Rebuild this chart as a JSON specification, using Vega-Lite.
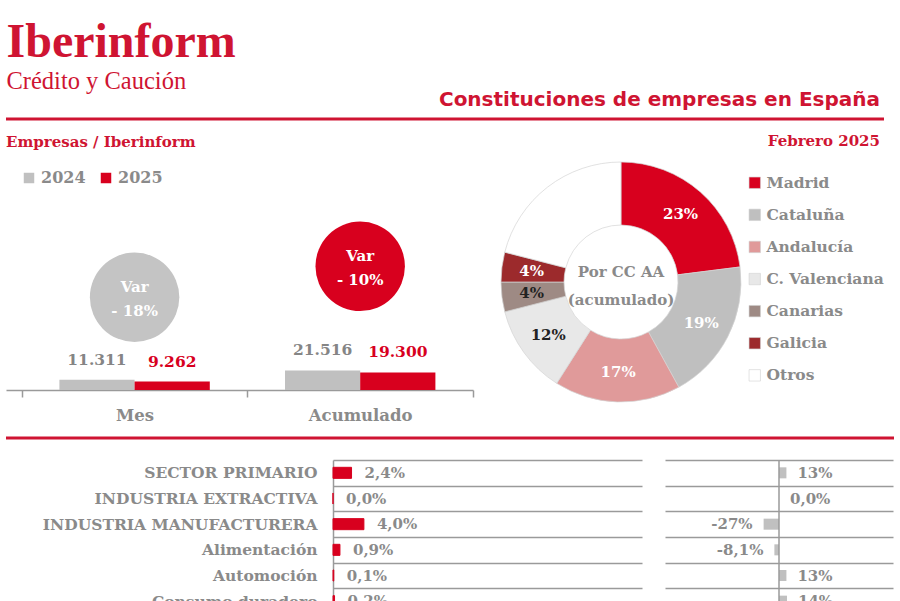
{
  "$schema": "https://vega.github.io/schema/vega-lite/v6.json",
  "background": "white",
  "padding": {"left": 4, "top": 19, "right": 0, "bottom": 0},
  "title": {
    "text": "Iberinform",
    "subtitle": "Crédito y Caución",
    "anchor": "start",
    "frame": "bounds",
    "font": "Liberation Serif",
    "fontSize": 48,
    "fontWeight": "bold",
    "color": "#cf1432",
    "subtitleFont": "Liberation Serif",
    "subtitleFontSize": 24.5,
    "subtitleFontWeight": "normal",
    "subtitleColor": "#cf1432",
    "subtitlePadding": 3,
    "offset": -4,
    "dx": 2
  },
  "config": {"view": {"stroke": null}},
  "datasets": {
    "sectores": [
      {"sector": "SECTOR PRIMARIO", "peso": 2.4, "peso_txt": "2,4%", "variacion": 13, "variacion_txt": "13%"},
      {"sector": "INDUSTRIA EXTRACTIVA", "peso": 0.0, "peso_txt": "0,0%", "variacion": 0.0, "variacion_txt": "0,0%"},
      {"sector": "INDUSTRIA MANUFACTURERA", "peso": 4.0, "peso_txt": "4,0%", "variacion": -27, "variacion_txt": "-27%"},
      {"sector": "Alimentación", "peso": 0.9, "peso_txt": "0,9%", "variacion": -8.1, "variacion_txt": "-8,1%"},
      {"sector": "Automoción", "peso": 0.1, "peso_txt": "0,1%", "variacion": 13, "variacion_txt": "13%"},
      {"sector": "Consumo duradero", "peso": 0.2, "peso_txt": "0,2%", "variacion": 14, "variacion_txt": "14%"}
    ]
  },
  "resolve": {"scale": {"color": "independent"}, "legend": {"color": "independent"}},
  "columns": 1,
  "spacing": 12,
  "concat": [
    {
      "width": 878,
      "height": 1,
      "title": {"text": "Constituciones de empresas en España", "anchor": "end", "frame": "group", "font": "DejaVu Sans", "fontSize": 20, "fontWeight": "bold", "color": "#cf1432", "offset": 8, "dx": -4},
      "data": {"values": [{}]},
      "mark": {"type": "rule", "color": "#cf1432", "strokeWidth": 3},
      "encoding": {"y": {"datum": 0, "type": "quantitative", "scale": {"domain": [0, 1]}, "axis": null}}
    },
    {
      "spacing": 25,
      "resolve": {"scale": {"color": "independent"}, "legend": {"color": "independent"}},
      "hconcat": [
        {
          "width": 467,
          "height": 228,
          "title": {"text": "Empresas / Iberinform", "anchor": "start", "frame": "bounds", "font": "DejaVu Serif", "fontSize": 15, "fontWeight": "bold", "color": "#cf1432", "offset": 12},
          "resolve": {"scale": {"y": "independent"}},
          "encoding": {
            "x": {
              "field": "periodo", "type": "nominal", "sort": ["Mes", "Acumulado"],
              "scale": {"paddingInner": 0, "paddingOuter": 0.035, "align": 1},
              "axis": {"title": null, "domainColor": "#9a9a9a", "domainWidth": 1.5, "ticks": true, "tickBand": "extent", "tickColor": "#9a9a9a", "tickWidth": 1.5, "tickSize": 7, "labelPadding": 10, "labelFont": "DejaVu Serif", "labelFontWeight": "bold", "labelFontSize": 16.5, "labelColor": "#8a8a8a", "labelAngle": 0}
            }
          },
          "layer": [
            {
              "data": {"values": [
                {"periodo": "Mes", "anio": "2024", "empresas": 11311, "etiqueta": "11.311"},
                {"periodo": "Mes", "anio": "2025", "empresas": 9262, "etiqueta": "9.262"},
                {"periodo": "Acumulado", "anio": "2024", "empresas": 21516, "etiqueta": "21.516"},
                {"periodo": "Acumulado", "anio": "2025", "empresas": 19300, "etiqueta": "19.300"}
              ]},
              "encoding": {
                "xOffset": {"field": "anio", "type": "nominal", "scale": {"paddingInner": 0, "paddingOuter": 0.5}},
                "y": {"field": "empresas", "type": "quantitative", "scale": {"domain": [0, 250000]}, "axis": null}
              },
              "layer": [
                {
                  "mark": {"type": "bar"},
                  "encoding": {
                    "color": {"field": "anio", "type": "nominal", "scale": {"domain": ["2024", "2025"], "range": ["#c0c0c0", "#d8001e"]},
                      "legend": {"orient": "none", "legendX": 15, "legendY": 8, "direction": "horizontal", "title": null, "symbolType": "square", "symbolSize": 110, "symbolStrokeWidth": 0, "labelFont": "DejaVu Serif", "labelFontWeight": "bold", "labelFontSize": 16, "labelColor": "#8a8a8a", "columnPadding": 12, "labelOffset": 4}}
                  }
                },
                {
                  "mark": {"type": "text", "baseline": "bottom", "dy": -12, "font": "DejaVu Serif", "fontWeight": "bold", "fontSize": 15.5},
                  "encoding": {
                    "text": {"field": "etiqueta"},
                    "color": {"condition": {"test": "datum.anio == '2025'", "value": "#d8001e"}, "value": "#858585"}
                  }
                }
              ]
            },
            {
              "data": {"values": [
                {"periodo": "Mes", "variacion": -18, "texto": ["Var", "- 18%"]},
                {"periodo": "Acumulado", "variacion": -10, "texto": ["Var", "- 10%"]}
              ]},
              "encoding": {
                "y": {"field": "variacion", "type": "quantitative", "scale": {"domain": [-42, 17]}, "axis": null}
              },
              "layer": [
                {
                  "mark": {"type": "point", "filled": true, "size": 8000, "opacity": 1, "shape": "circle"},
                  "encoding": {"color": {"condition": {"test": "datum.periodo == 'Mes'", "value": "#c4c4c4"}, "value": "#d8001e"}}
                },
                {
                  "mark": {"type": "text", "font": "DejaVu Serif", "fontWeight": "bold", "fontSize": 15, "color": "white", "lineHeight": 24, "baseline": "middle", "dy": -10},
                  "encoding": {"text": {"field": "texto"}}
                }
              ]
            }
          ]
        },
        {
          "width": 240,
          "height": 240,
          "title": {"text": "Febrero 2025", "anchor": "end", "frame": "bounds", "font": "DejaVu Serif", "fontSize": 15, "fontWeight": "bold", "color": "#cf1432", "offset": 12, "dx": -4},
          "data": {"values": [
            {"region": "Madrid", "peso": 23, "etiqueta": "23%", "orden": 1},
            {"region": "Cataluña", "peso": 19, "etiqueta": "19%", "orden": 2},
            {"region": "Andalucía", "peso": 17, "etiqueta": "17%", "orden": 3},
            {"region": "C. Valenciana", "peso": 12, "etiqueta": "12%", "orden": 4},
            {"region": "Canarias", "peso": 4, "etiqueta": "4%", "orden": 5},
            {"region": "Galicia", "peso": 4, "etiqueta": "4%", "orden": 6},
            {"region": "Otros", "peso": 21, "etiqueta": "", "orden": 7}
          ]},
          "layer": [
            {
              "mark": {"type": "arc", "innerRadius": 57, "outerRadius": 120, "stroke": "#d4d4d4", "strokeWidth": 0.7},
              "encoding": {
                "theta": {"field": "peso", "type": "quantitative", "stack": true},
                "order": {"field": "orden", "type": "quantitative"},
                "color": {"field": "region", "type": "nominal",
                  "scale": {"domain": ["Madrid", "Cataluña", "Andalucía", "C. Valenciana", "Canarias", "Galicia", "Otros"], "range": ["#d8001e", "#bfbfbf", "#e09a9a", "#e8e8e8", "#9e8a84", "#9c2a2c", "#ffffff"]},
                  "legend": {"orient": "none", "legendX": 246, "legendY": 13, "direction": "vertical", "title": null, "symbolType": "square", "symbolSize": 130, "symbolStrokeColor": "#d0d0d0", "symbolStrokeWidth": 0.6, "labelFont": "DejaVu Serif", "labelFontWeight": "bold", "labelFontSize": 15.5, "labelColor": "#8a8a8a", "rowPadding": 15.1, "labelOffset": 4}}
              }
            },
            {
              "mark": {"type": "text", "radius": 90, "font": "DejaVu Serif", "fontWeight": "bold", "fontSize": 15},
              "encoding": {
                "theta": {"field": "peso", "type": "quantitative", "stack": true},
                "order": {"field": "orden", "type": "quantitative"},
                "text": {"field": "etiqueta"},
                "color": {"condition": {"test": "datum.region == 'C. Valenciana' || datum.region == 'Canarias'", "value": "#222222"}, "value": "white"}
              }
            },
            {
              "data": {"values": [{"texto": ["Por CC AA", "(acumulado)"]}]},
              "mark": {"type": "text", "font": "DejaVu Serif", "fontWeight": "bold", "fontSize": 15, "color": "#8a8a8a", "lineHeight": 28, "dy": -10, "baseline": "middle"},
              "encoding": {"text": {"field": "texto"}}
            }
          ]
        }
      ]
    },
    {
      "width": 888,
      "height": 9,
      "data": {"values": [{}]},
      "mark": {"type": "rule", "color": "#cf1432", "strokeWidth": 3},
      "encoding": {"y": {"datum": 1, "type": "quantitative", "scale": {"domain": [0, 1]}, "axis": null}}
    },
    {
      "spacing": 15,
      "hconcat": [
        {
          "width": 1,
          "height": 154,
          "data": {"name": "sectores"},
          "mark": {"type": "point", "opacity": 0, "size": 0},
          "encoding": {
            "y": {"field": "sector", "type": "nominal", "sort": null, "scale": {"paddingInner": 0, "paddingOuter": 0},
              "axis": {"orient": "right", "title": null, "domain": false, "ticks": false, "tickSize": 0, "grid": false, "labelAlign": "right", "labelPadding": 310, "labelFont": "DejaVu Serif", "labelFontWeight": "bold", "labelFontSize": 15.5, "labelColor": "#8a8a8a", "labelLimit": 400}}
          }
        },
        {
          "spacing": 23,
          "hconcat": [
            {
              "width": 309,
              "height": 154,
              "data": {"name": "sectores"},
              "encoding": {
                "y": {"field": "sector", "type": "nominal", "sort": null, "scale": {"paddingInner": 0, "paddingOuter": 0},
                  "axis": {"title": null, "domainColor": "#9a9a9a", "domainWidth": 1.5, "ticks": false, "tickSize": 0, "labels": false, "grid": true, "gridColor": "#9a9a9a", "gridWidth": 1.5, "tickBand": "extent", "minExtent": 0, "maxExtent": 0}}
              },
              "layer": [
                {
                  "mark": {"type": "bar", "color": "#d8001e", "stroke": "#d8001e", "strokeWidth": 1, "height": {"band": 0.43}},
                  "encoding": {"x": {"field": "peso", "type": "quantitative", "scale": {"domain": [0, 40]}, "axis": null}}
                },
                {
                  "mark": {"type": "text", "align": "left", "baseline": "middle", "dx": 13, "font": "DejaVu Serif", "fontWeight": "bold", "fontSize": 15, "color": "#8a8a8a"},
                  "encoding": {"x": {"field": "peso", "type": "quantitative"}, "text": {"field": "peso_txt"}}
                }
              ]
            },
            {
              "width": 228,
              "height": 154,
              "data": {"name": "sectores"},
              "encoding": {
                "y": {"field": "sector", "type": "nominal", "sort": null, "scale": {"paddingInner": 0, "paddingOuter": 0},
                  "axis": {"title": null, "labels": false, "ticks": false, "domain": false, "grid": true, "gridColor": "#9a9a9a", "gridWidth": 1.5, "tickBand": "extent", "minExtent": 0, "maxExtent": 0}}
              },
              "layer": [
                {
                  "mark": {"type": "bar", "color": "#c0c0c0", "height": {"band": 0.43}},
                  "encoding": {"x": {"field": "variacion", "type": "quantitative", "scale": {"domain": [-200, 200]}, "axis": null}}
                },
                {
                  "data": {"values": [{}]},
                  "mark": {"type": "rule", "color": "#9a9a9a", "strokeWidth": 1.5},
                  "encoding": {"x": {"datum": 0, "type": "quantitative"}, "y": null}
                },
                {
                  "transform": [{"filter": "datum.variacion >= 0"}],
                  "mark": {"type": "text", "align": "left", "baseline": "middle", "dx": 11, "font": "DejaVu Serif", "fontWeight": "bold", "fontSize": 15, "color": "#8a8a8a"},
                  "encoding": {"x": {"field": "variacion", "type": "quantitative"}, "text": {"field": "variacion_txt"}}
                },
                {
                  "transform": [{"filter": "datum.variacion < 0"}],
                  "mark": {"type": "text", "align": "right", "baseline": "middle", "dx": -11, "font": "DejaVu Serif", "fontWeight": "bold", "fontSize": 15, "color": "#8a8a8a"},
                  "encoding": {"x": {"field": "variacion", "type": "quantitative"}, "text": {"field": "variacion_txt"}}
                }
              ]
            }
          ]
        }
      ]
    }
  ]
}
